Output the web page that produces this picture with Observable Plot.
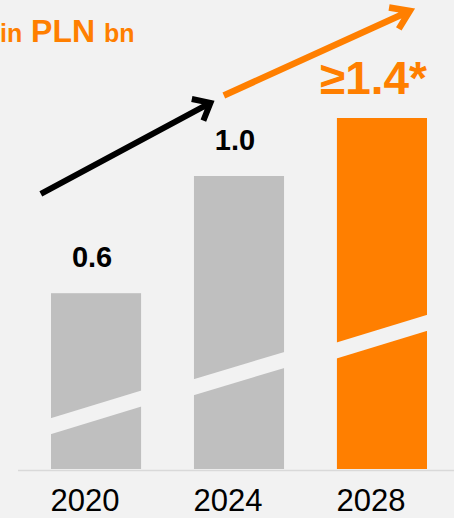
<!DOCTYPE html>
<html><head><meta charset="utf-8">
<script src="https://cdn.jsdelivr.net/npm/d3@7"></script>
<script src="https://cdn.jsdelivr.net/npm/@observablehq/plot@0.6"></script>
<style>
html,body{margin:0;padding:0;background:#f2f2f2;}
#wrap{position:relative;width:454px;height:518px;overflow:hidden;}
#wrap svg{position:absolute;left:0;top:0;}
#title{position:absolute;z-index:2;left:0;top:14.8px;font-family:"Liberation Sans",Arial,sans-serif;font-weight:bold;color:#ff7f00;font-size:32px;line-height:1;white-space:nowrap;}
#title .s{font-size:25px;}
</style></head><body>
<div id="wrap"><div id="title"><span class="s">in</span> PLN <span class="s">bn</span></div></div>
<script>
const years = ["2020", "2024", "2028"];
const values = [0.6, 1.0, 1.4];
const labels = ["0.6", "1.0", "≥1.4*"];
const colors = ["#bfbfbf", "#bfbfbf", "#ff7f00"];
// value-axis break drawn across each bar (left / right edge, in value units)
const axisBreakLeft = [0.146, 0.279, 0.405];
const axisBreakRight = [0.240, 0.372, 0.499];

const data = years.map((year, i) => ({year, value: values[i], label: labels[i], color: colors[i]}));

const plot = Plot.plot({
  width: 454, height: 518,
  marginLeft: 18, marginRight: 0, marginTop: 0, marginBottom: 49,
  style: {background: "transparent", fontFamily: "'Liberation Sans', Arial, sans-serif", overflow: "visible"},
  x: {type: "band", domain: years, range: [51, 427], paddingInner: 0.37, paddingOuter: 0, round: false, label: null},
  y: {type: "linear", domain: [0, 1, 1.4], range: [469, 176, 118], axis: null},
  color: {type: "identity"},
  marks: [
    Plot.ruleY([0], {stroke: "#d9d9d9", strokeWidth: 1.5, dy: 1}),
    Plot.barY(data, {x: "year", y: "value", fill: "color"}),
    Plot.axisX({tickSize: 0, tickPadding: 19.5, fontSize: 31, dx: -11.5, fill: "#000", label: null}),
    Plot.text(data.slice(0, 2), {x: "year", y: "value", text: "label", lineAnchor: "bottom", dy: -26.5, dx: -4.5,
      fontSize: 29, fontWeight: "bold", fill: "#000"}),
    Plot.text(data.slice(2), {x: "year", y: "value", text: "label", lineAnchor: "bottom", dy: -25, dx: -9,
      fontSize: 46, fontWeight: "bold", fill: "#ff7f00"}),
    Plot.arrow([{a: "2020", ya: 1.086, b: "2024", yb: 1.615}], {x1: "a", y1: "ya", x2: "b", y2: "yb",
      insetStart: -63.2, insetEnd: 33, stroke: "#000", strokeWidth: 6, headAngle: 80, headLength: 4.75,
      strokeLinecap: "butt", strokeLinejoin: "miter", strokeMiterlimit: 10}),
    Plot.arrow([{a: "2024", ya: 1.608, b: "2028", yb: 2.056}], {x1: "a", y1: "ya", x2: "b", y2: "yb",
      insetStart: -17.2, insetEnd: -30, stroke: "#ff7f00", strokeWidth: 6.5, headAngle: 68, headLength: 4.85,
      strokeLinecap: "butt", strokeLinejoin: "miter", strokeMiterlimit: 10})
  ]
});

document.getElementById("wrap").insertBefore(plot, document.getElementById("title"));

// axis-break gaps through the bars, placed with the plot's own scales
const xs = plot.scale("x"), ys = plot.scale("y");
const bw = xs.bandwidth;
const gaps = d3.select(plot).append("g").attr("fill", "#f2f2f2");
years.forEach((yr, i) => {
  const x0 = xs.apply(yr), x1 = x0 + bw;
  const yl = ys.apply(axisBreakLeft[i]), yrr = ys.apply(axisBreakRight[i]);
  const slope = (yrr - yl) / bw, ext = 2, h = 8;
  const L = x0 - ext, R = x1 + ext, yL = yl - slope * ext, yR = yrr + slope * ext;
  gaps.append("polygon").attr("points", [[L, yL - h], [R, yR - h], [R, yR + h], [L, yL + h]].map(p => p.join(",")).join(" "));
});
</script>
</body></html>
